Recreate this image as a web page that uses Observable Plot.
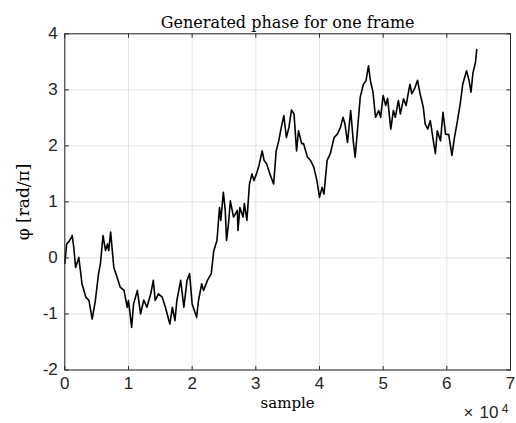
<!DOCTYPE html>
<html>
<head>
<meta charset="utf-8">
<script src="https://cdn.jsdelivr.net/npm/d3@7"></script>
<script src="https://cdn.jsdelivr.net/npm/@observablehq/plot@0.6"></script>
<style>
  html, body { margin: 0; padding: 0; background: #fff; }
  #chart svg { display: block; }
</style>
</head>
<body>
<div id="chart"></div>
<script>
// sample index (samples)
const samples = [
  0, 300, 700, 1160, 1400, 1700, 2200, 2700, 3300, 3800,
  4300, 4800, 5300, 5600, 6000, 6400, 6700, 6900, 7200, 7700,
  8200, 8700, 9300, 9800, 10000, 10500, 10800, 11400, 11900, 12400,
  12900, 13500, 13900, 14200, 14700, 15300, 15800, 16500, 16900, 17300,
  17600, 18200, 18700, 19200, 19600, 20000, 20700, 21000, 21500, 21800,
  22400, 23000, 23400, 23900, 24300, 24500, 24900, 25200, 25400, 25700,
  26000, 26500, 27100, 27200, 27500, 28000, 28200, 28600, 29000, 29400,
  29700, 30100, 30500, 31000, 31300, 31700, 32200, 32800, 33200, 33600,
  34000, 34400, 34800, 35200, 35600, 36000, 36400, 36700, 37200, 37500,
  38100, 38600, 39100, 39600, 40000, 40400, 40700, 41200, 41700, 42300,
  42800, 43300, 43700, 44000, 44400, 44900, 45300, 45600, 46000, 46400,
  46900, 47300, 47700, 48000, 48400, 48800, 49300, 49600, 50000, 50400,
  50700, 51200, 51600, 51900, 52400, 52700, 53200, 53600, 54200, 54500,
  55000, 55400, 55800, 56300, 56600, 57000, 57400, 57800, 58200, 58500,
  59000, 59400, 59800, 60300, 60800, 61200, 61600, 62100, 62500, 63100,
  63500, 63800, 64100, 64500, 64700
];
// generated phase, in units of rad/pi
const phase = [
  -0.10, 0.25, 0.30, 0.40, 0.20, -0.17, 0.01, -0.46, -0.70, -0.76,
  -1.09, -0.76, -0.28, -0.10, 0.40, 0.13, 0.25, 0.13, 0.46, -0.17,
  -0.34, -0.52, -0.58, -0.88, -0.76, -1.24, -0.82, -0.58, -1.00, -0.75,
  -0.88, -0.64, -0.40, -0.76, -0.64, -0.70, -0.88, -1.18, -0.88, -1.12,
  -0.76, -0.40, -0.88, -0.40, -0.28, -0.82, -1.06, -0.76, -0.46, -0.58,
  -0.40, -0.28, 0.13, 0.31, 0.90, 0.67, 1.17, 0.85, 0.31, 0.60,
  1.02, 0.73, 0.85, 0.49, 0.90, 0.73, 0.97, 0.67, 1.32, 1.50,
  1.38, 1.50, 1.65, 1.91, 1.74, 1.68, 1.50, 1.32, 1.91, 2.09,
  2.33, 2.54, 2.15, 2.33, 2.64, 2.57, 1.91, 2.27, 2.04, 2.04,
  1.80, 1.74, 1.62, 1.38, 1.08, 1.26, 1.14, 1.74, 1.86, 2.15,
  2.21, 2.33, 2.51, 2.39, 2.06, 2.63, 2.09, 1.80, 2.33, 2.87,
  3.10, 3.16, 3.43, 3.16, 2.96, 2.51, 2.63, 2.51, 2.90, 2.72,
  2.85, 2.30, 2.63, 2.51, 2.81, 2.57, 2.84, 2.72, 3.10, 2.93,
  3.04, 3.17, 2.93, 2.69, 2.39, 2.30, 2.45, 2.15, 1.86, 2.27,
  2.09, 2.60, 2.21, 2.20, 1.83, 2.15, 2.40, 2.75, 3.10, 3.34,
  3.16, 2.96, 3.30, 3.49, 3.72
];
const xTicks = [0, 10000, 20000, 30000, 40000, 50000, 60000, 70000];
const xTickLabels = ["0", "1", "2", "3", "4", "5", "6", "7"];
const yTicks = [-2, -1, 0, 1, 2, 3, 4];
const yTickLabels = ["-2", "-1", "0", "1", "2", "3", "4"];
const titleText = "Generated phase for one frame";
const xLabelText = "sample";
const yLabelText = "φ [rad/π]";
const exponentTimes = "×";
const exponentBase = "10";
const exponentPower = "4";

const data = samples.map((s, i) => ({sample: s, phase: phase[i]}));

const W = 516, H = 423;
const mL = 64.3, mR = 6, mT = 33.3, mB = 53.5;
const tk = 4;

const sans = "'Liberation Sans', Arial, sans-serif";
const serif = "'DejaVu Serif', serif";
const axisColor = "#262626";

// tick glyphs drawn as custom symbols, pointing into the frame
const tickUp = {draw(ctx) { ctx.moveTo(0, 0); ctx.lineTo(0, -tk); }};
const tickDown = {draw(ctx) { ctx.moveTo(0, 0); ctx.lineTo(0, tk); }};
const tickRight = {draw(ctx) { ctx.moveTo(0, 0); ctx.lineTo(tk, 0); }};
const tickLeft = {draw(ctx) { ctx.moveTo(0, 0); ctx.lineTo(-tk, 0); }};

const chart = Plot.plot({
  width: W,
  height: H,
  marginLeft: mL,
  marginRight: mR,
  marginTop: mT,
  marginBottom: mB,
  style: {background: "#fff", fontFamily: sans, overflow: "visible"},
  x: {domain: [0, 70000], axis: null},
  y: {domain: [-2, 4], axis: null},
  marks: [
    Plot.gridX(xTicks, {stroke: "#e3e3e3", strokeOpacity: 1}),
    Plot.gridY(yTicks, {stroke: "#e3e3e3", strokeOpacity: 1}),
    Plot.line(data, {x: "sample", y: "phase", stroke: "#000", strokeWidth: 1.6, strokeLinejoin: "round"}),
    Plot.frame({stroke: axisColor, strokeWidth: 1}),
    // inward ticks on all four sides
    Plot.dot(xTicks, {x: (d) => d, frameAnchor: "bottom", symbol: tickUp, r: 3, stroke: axisColor, strokeWidth: 1, fill: "none"}),
    Plot.dot(xTicks, {x: (d) => d, frameAnchor: "top", symbol: tickDown, r: 3, stroke: axisColor, strokeWidth: 1, fill: "none"}),
    Plot.dot(yTicks, {y: (d) => d, frameAnchor: "left", symbol: tickRight, r: 3, stroke: axisColor, strokeWidth: 1, fill: "none"}),
    Plot.dot(yTicks, {y: (d) => d, frameAnchor: "right", symbol: tickLeft, r: 3, stroke: axisColor, strokeWidth: 1, fill: "none"}),
    // tick labels
    Plot.text(xTicks, {x: (d) => d, frameAnchor: "bottom", dy: 19, text: (d, i) => xTickLabels[i],
      fontFamily: sans, fontSize: 17, fill: axisColor, textAnchor: "middle"}),
    Plot.text(yTicks, {y: (d) => d, frameAnchor: "left", dx: -7, text: (d, i) => yTickLabels[i],
      fontFamily: sans, fontSize: 17, fill: axisColor, textAnchor: "end"}),
    // title and labels
    Plot.text([titleText], {frameAnchor: "top", dy: -17, text: (d) => d, fontFamily: serif, fontSize: 16, fill: "#000", textAnchor: "middle"}),
    Plot.text([xLabelText], {frameAnchor: "bottom", dy: 38, text: (d) => d, fontFamily: serif, fontSize: 15, fill: "#000", textAnchor: "middle"}),
    Plot.text([yLabelText], {frameAnchor: "left", dx: -41, rotate: -90, text: (d) => d, fontFamily: serif, fontSize: 17, fill: "#000", textAnchor: "middle"}),
    Plot.text([exponentTimes], {frameAnchor: "bottom-right", dx: -47, dy: 47.5, text: (d) => d, fontFamily: sans, fontSize: 17, fill: axisColor, textAnchor: "start"}),
    Plot.text([exponentBase], {frameAnchor: "bottom-right", dx: -12, dy: 47.5, text: (d) => d, fontFamily: sans, fontSize: 17, fill: axisColor, textAnchor: "end"}),
    Plot.text([exponentPower], {frameAnchor: "bottom-right", dx: -2, dy: 43, text: (d) => d, fontFamily: sans, fontSize: 12, fill: axisColor, textAnchor: "end"})
  ]
});
document.getElementById("chart").appendChild(chart);
</script>
</body>
</html>
